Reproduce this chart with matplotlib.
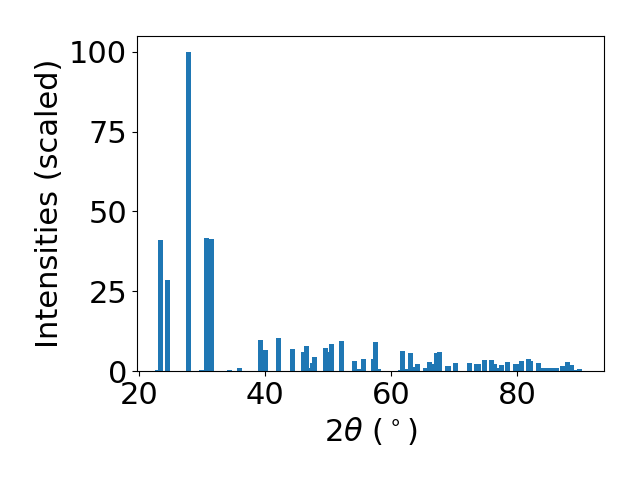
import numpy as np
import matplotlib
matplotlib.use('Agg')
import matplotlib.pyplot as plt

# Peak positions (2theta, deg) and scaled intensities.
two_theta = [22.9, 23.4, 24.4, 27.8, 29.9, 30.7, 31.5, 34.3, 35.9,
             39.2, 40.0, 42.1, 44.3, 46.1, 46.6, 47.2, 47.5, 47.8,
             49.6, 49.9, 50.5, 52.1, 54.2, 54.9, 55.6, 57.2, 57.5, 57.9,
             61.4, 61.8, 62.6, 63.1, 63.7, 64.2,
             65.5, 66.0, 66.5, 67.2, 67.6, 69.0, 70.2,
             72.4, 73.5, 73.8, 74.8, 75.9, 76.4, 77.0, 77.5, 78.5,
             79.7, 80.2, 80.7, 81.8, 82.1, 83.4, 84.2, 85.0, 85.6, 86.2,
             87.2, 88.0, 88.6, 89.3, 89.9]
intensity = [0.3, 41.0, 28.5, 100.0, 0.3, 41.7, 41.3, 0.3, 1.0,
             9.7, 6.6, 10.3, 6.9, 6.0, 7.8, 1.0, 2.5, 4.4,
             7.2, 5.9, 8.5, 9.4, 3.1, 0.6, 3.8, 3.8, 9.0, 0.6,
             0.3, 6.3, 0.6, 5.6, 1.2, 2.2,
             1.0, 2.8, 2.2, 5.6, 6.0, 1.6, 2.5,
             2.5, 2.2, 2.2, 3.4, 3.4, 2.2, 1.0, 1.9, 2.8,
             2.2, 2.2, 3.1, 3.8, 3.1, 2.5, 1.0, 1.0, 1.0, 1.0,
             1.6, 2.8, 1.9, 0.3, 0.6]

plt.rcParams['font.size'] = 22

fig, ax = plt.subplots(figsize=(6.4, 4.8), dpi=100)
ax.bar(two_theta, intensity, width=0.8, color='C0')
ax.set_xlim(19.6, 93.8)
ax.set_xlabel(r'$2\theta$ ($^\circ$)')
ax.set_ylabel('Intensities (scaled)')
ax.set_xticks([20, 40, 60, 80])
ax.set_yticks([0, 25, 50, 75, 100])
plt.subplots_adjust(left=0.214, right=0.944, bottom=0.227, top=0.925)
plt.savefig('out.png')
